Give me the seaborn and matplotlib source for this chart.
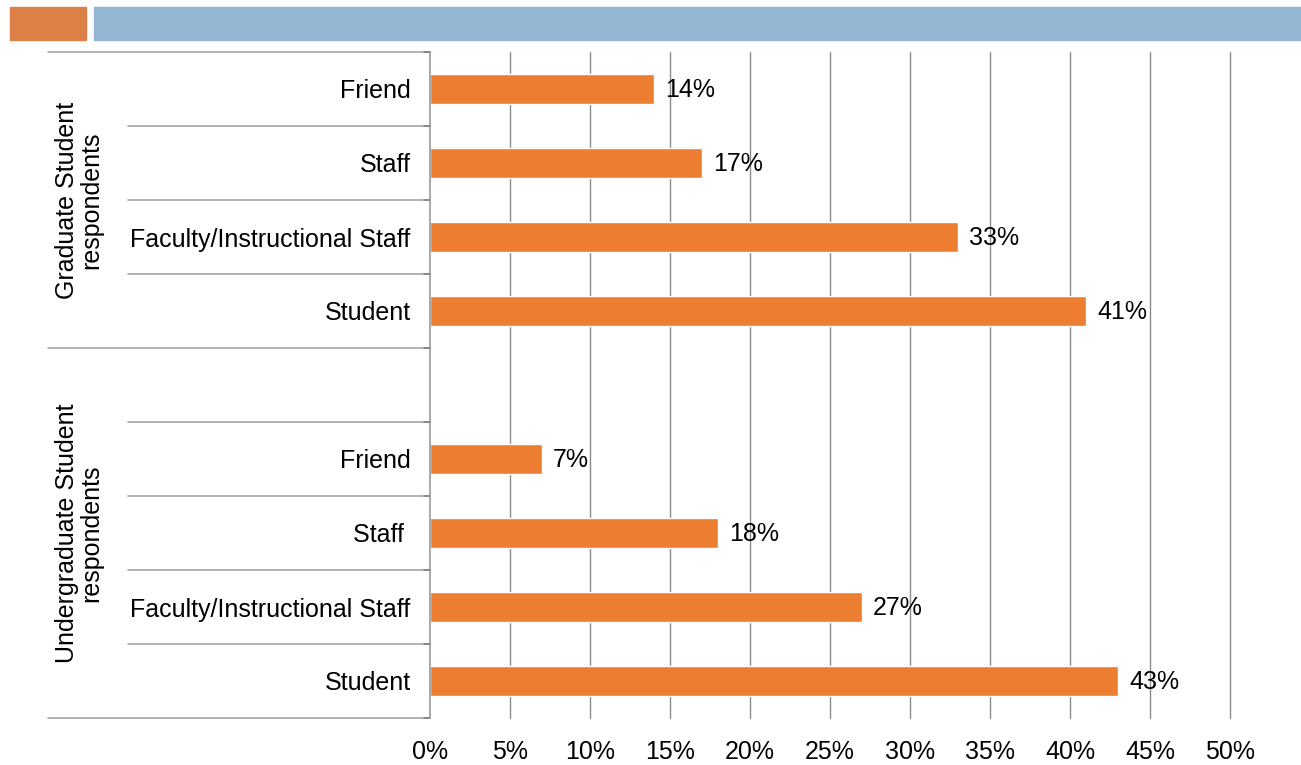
import matplotlib
matplotlib.use("Agg")
import matplotlib.pyplot as plt
from matplotlib.patches import Rectangle
import matplotlib.transforms as mtransforms
import seaborn as sns
import pandas as pd

# Survey results: who respondents turned to, by respondent group
groups = ["Graduate Student\nrespondents", "Undergraduate Student\nrespondents"]
items_grad = ["Friend", "Staff", "Faculty/Instructional Staff", "Student"]
items_ugrad = ["Friend", "Staff ", "Faculty/Instructional Staff", "Student"]
values_grad = [14, 17, 33, 41]
values_ugrad = [7, 18, 27, 43]
x_ticks = [0, 5, 10, 15, 20, 25, 30, 35, 40, 45, 50]

rows = ([f"g{i}" for i in range(4)] + ["gap"] + [f"u{i}" for i in range(4)])
labels = items_grad + [""] + items_ugrad
df = pd.DataFrame({
    "row": [f"g{i}" for i in range(4)] + [f"u{i}" for i in range(4)],
    "pct": values_grad + values_ugrad,
})

sns.set_theme(style="white")
plt.rcParams["font.family"] = ["Liberation Sans", "DejaVu Sans"]
FS = 18
W, H = 1301, 765
fig = plt.figure(figsize=(W / 100, H / 100), dpi=100)
ax = fig.add_axes([430 / W, 1 - 718 / H, 800 / W, 666 / H])

BAR = "#ED7D31"
sns.barplot(data=df, x="pct", y="row", order=rows, orient="h", color=BAR,
            width=0.4, saturation=1, ax=ax, zorder=3)

ax.set_xlim(0, 50)
ax.set_ylim(8.5, -0.5)
ax.set_xticks(x_ticks)
ax.set_xticklabels([f"{t}%" for t in x_ticks], fontsize=FS, color="black")
ax.set_yticks(range(len(rows)))
ax.set_yticklabels(labels, fontsize=FS, color="black")
ax.tick_params(axis="y", length=0, pad=14)
ax.tick_params(axis="x", length=0, pad=16)
ax.set_xlabel("")
ax.set_ylabel("")
for s in ["top", "right", "bottom"]:
    ax.spines[s].set_visible(False)
ax.spines["left"].set_color("#9a9a9a")
ax.spines["left"].set_linewidth(1.2)
ax.spines["left"].set_zorder(4)

GRID = "#8c8c8c"
for t in x_ticks[1:]:
    ax.axvline(t, color=GRID, lw=1.0, zorder=1, clip_on=False)

# value labels
for p, v in zip(ax.patches, values_grad + values_ugrad):
    ax.annotate(f"{v}%", (p.get_width(), p.get_y() + p.get_height() / 2),
                xytext=(8, -1), textcoords="offset points", va="center",
                ha="left", fontsize=FS, color="black", zorder=5)

# category table lines on the left of the axis
trans = mtransforms.blended_transform_factory(ax.transAxes, ax.transData)
x_outer = (48 - 430) / 800
x_inner = (128 - 430) / 800
x_tick = (424 - 430) / 800
LINE = "#a6a6a6"
for yb in [-0.5, 0.5, 1.5, 2.5, 3.5, 4.5, 5.5, 6.5, 7.5, 8.5]:
    x0 = x_outer if yb in (-0.5, 3.5, 8.5) else x_inner
    ax.plot([x0, 0], [yb, yb], transform=trans, color=LINE, lw=1.2,
            clip_on=False, zorder=2)
    ax.plot([x_tick, 0], [yb, yb], transform=trans, color="#7f7f7f", lw=1.2,
            clip_on=False, zorder=2)

# group labels
x_grp = (79 - 430) / 800
for g, yc in zip(groups, [1.5, 6.0]):
    ax.text(x_grp, yc, g, transform=trans, rotation=90, ha="center",
            va="center", fontsize=FS, color="black", multialignment="center",
            linespacing=1.0)

# header banner
fig.patches.append(Rectangle((10 / W, 1 - 40 / H), 76 / W, 33 / H,
                             transform=fig.transFigure, color="#DD8047",
                             zorder=0))
fig.patches.append(Rectangle((94 / W, 1 - 40 / H), (W - 94) / W, 33 / H,
                             transform=fig.transFigure, color="#94B6D2",
                             zorder=0))

fig.savefig("out.png", dpi=100, facecolor="white")
